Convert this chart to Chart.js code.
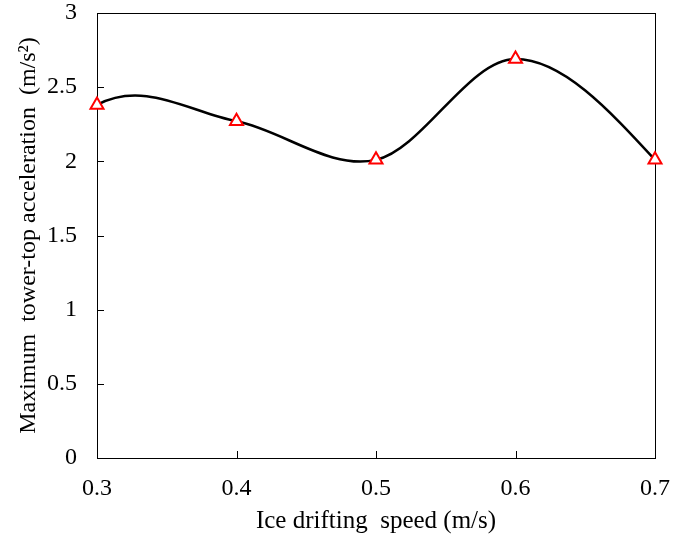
<!DOCTYPE html>
<html>
<head>
<meta charset="utf-8">
<script src="https://cdn.jsdelivr.net/npm/chart.js@4.4.1/dist/chart.umd.min.js"></script>
<style>
  html, body { margin: 0; padding: 0; background: #fff; }
</style>
</head>
<body>
<canvas id="accel-chart" width="686" height="536"></canvas>
<script>
// values
const speeds = [0.3, 0.4, 0.5, 0.6, 0.7];
const accel = [2.38, 2.27, 2.01, 2.69, 2.01];

const xTickValues = [0.3, 0.4, 0.5, 0.6, 0.7];
const xTickLabels = ['0.3', '0.4', '0.5', '0.6', '0.7'];
const yTickValues = [0, 0.5, 1, 1.5, 2, 2.5, 3];
const yTickLabels = ['0', '0.5', '1', '1.5', '2', '2.5', '3'];

const serif = '"Liberation Serif", "Times New Roman", serif';

// tangents for the smoothed line (catmull-rom inside, special ends)
function tangents(xs, ys) {
    const n = xs.length;
    const s = [];
    for (let i = 0; i < n - 1; i++) s.push((ys[i + 1] - ys[i]) / (xs[i + 1] - xs[i]));
    const m = [];
    for (let i = 1; i < n - 1; i++) m[i] = (ys[i + 1] - ys[i - 1]) / (xs[i + 1] - xs[i - 1]);
    m[0] = m[2] + 2 * (s[0] - s[1]);
    m[n - 1] = (3 * s[n - 2] - m[n - 2]) / 2;
    return m;
}

const smoothLine = {
    id: 'smoothLine',
    beforeDatasetDraw(chart, args) {
        const meta = args.meta;
        const xs = chart.scales.x, ys = chart.scales.y;
        meta.dataset.updateControlPoints(chart.chartArea, 'x');
        const m = tangents(speeds, accel);
        const n = speeds.length;
        meta.data.forEach((pt, i) => {
            if (i > 0) {
                const h = (speeds[i] - speeds[i - 1]) / 3;
                pt.cp1x = xs.getPixelForValue(speeds[i] - h);
                pt.cp1y = ys.getPixelForValue(accel[i] - m[i] * h);
            }
            if (i < n - 1) {
                const h = (speeds[i + 1] - speeds[i]) / 3;
                pt.cp2x = xs.getPixelForValue(speeds[i] + h);
                pt.cp2y = ys.getPixelForValue(accel[i] + m[i] * h);
            }
        });
    }
};

// box round the plot and ticks pointing inwards
const frame = {
    id: 'frame',
    beforeDatasetsDraw(chart) {
        const {ctx, chartArea: a, scales: {x, y}} = chart;
        ctx.save();
        ctx.strokeStyle = '#000';
        ctx.lineWidth = 1;
        ctx.strokeRect(a.left + 0.5, a.top + 0.5, a.right - a.left, a.bottom - a.top);
        ctx.beginPath();
        y.ticks.forEach(t => {
            const py = Math.round(y.getPixelForValue(t.value)) + 0.5;
            ctx.moveTo(a.left, py);
            ctx.lineTo(a.left + 7, py);
        });
        x.ticks.forEach(t => {
            const px = Math.round(x.getPixelForValue(t.value)) + 0.5;
            ctx.moveTo(px, a.bottom);
            ctx.lineTo(px, a.bottom - 7);
        });
        ctx.stroke();
        ctx.restore();
    }
};

const data = {
    datasets: [{
        data: speeds.map((v, i) => ({x: v, y: accel[i]})),
        borderColor: '#000',
        borderWidth: 2.5,
        tension: 0.4,
        capBezierPoints: false,
        fill: false,
        clip: false,
        pointStyle: 'triangle',
        pointRadius: 7.5,
        pointBorderWidth: 2,
        pointBorderColor: '#ff0000',
        pointBackgroundColor: '#fff'
    }]
};

const config = {
    type: 'line',
    data: data,
    options: {
        responsive: false,
        animation: false,
        events: [],
        layout: {padding: {left: 0, right: 31, top: 13, bottom: 0}},
        plugins: {legend: {display: false}, tooltip: {enabled: false}},
        scales: {
            x: {
                type: 'linear',
                min: 0.3,
                max: 0.7,
                afterBuildTicks: s => { s.ticks = xTickValues.map(v => ({value: v})); },
                afterFit: s => { s.height = 78; },
                grid: {display: false, drawTicks: false},
                border: {display: false},
                ticks: {
                    padding: 16,
                    color: '#000',
                    font: {family: serif, size: 24},
                    maxRotation: 0,
                    callback: (v, i) => xTickLabels[i]
                },
                title: {
                    display: true,
                    text: 'Ice drifting  speed (m/s)',
                    color: '#000',
                    font: {family: serif, size: 25},
                    padding: {top: 0, bottom: 0}
                }
            },
            y: {
                min: 0,
                max: 3,
                afterBuildTicks: s => { s.ticks = yTickValues.map(v => ({value: v})); },
                afterFit: s => { s.width = 97; s.paddingTop = 13; s.paddingBottom = 0; },
                grid: {display: false, drawTicks: false},
                border: {display: false},
                ticks: {
                    padding: 20,
                    color: '#000',
                    font: {family: serif, size: 24},
                    callback: (v, i) => yTickLabels[i]
                },
                title: {
                    display: true,
                    text: 'Maximum  tower-top acceleration  (m/s²)',
                    color: '#000',
                    font: {family: serif, size: 24},
                    padding: {top: 14, bottom: 0}
                }
            }
        }
    },
    plugins: [frame, smoothLine]
};

const chart = new Chart(document.getElementById('accel-chart'), config);
</script>
</body>
</html>
